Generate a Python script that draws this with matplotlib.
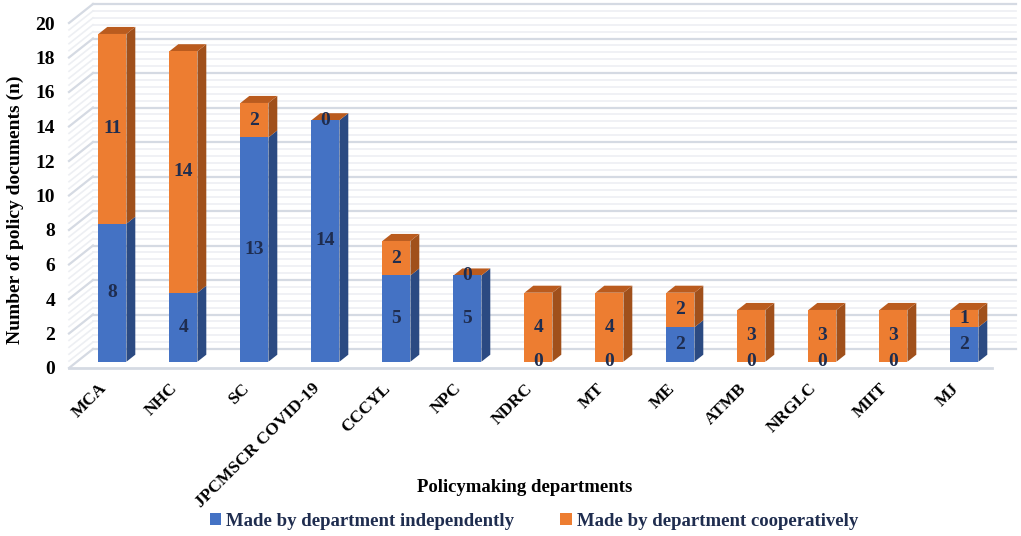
import matplotlib
matplotlib.use("Agg")
import matplotlib.pyplot as plt
from matplotlib.patches import Polygon, Patch
import numpy as np

departments = ["MCA", "NHC", "SC", "JPCMSCR COVID-19", "CCCYL", "NPC", "NDRC",
               "MT", "ME", "ATMB", "NRGLC", "MIIT", "MJ"]
independent = [8, 4, 13, 14, 5, 5, 0, 0, 2, 0, 0, 0, 2]
cooperative = [11, 14, 2, 0, 2, 0, 4, 4, 2, 3, 3, 3, 1]
series_names = ["Made by department independently", "Made by department cooperatively"]
y_ticks = list(range(0, 21, 2))

FONT = "Liberation Serif"
TXT = "#1F2D4F"
BLUE, BLUE_SIDE = "#4472C4", "#2B4A82"
ORANGE, ORANGE_SIDE, ORANGE_TOP = "#ED7D31", "#A0501B", "#BA5B1E"
GRID_MAJ, GRID_MIN = "#D5DAE3", "#EDEFF3"

W, H = 1021, 536
fig = plt.figure(figsize=(W / 100, H / 100), dpi=100)
left_px, right_px, y0_px, y20_px = 69, 992, 368, 23
ax = fig.add_axes([left_px / W, (H - y0_px) / H, (right_px - left_px) / W, (y0_px - y20_px) / H])
n = len(departments)
ax.set_xlim(-0.5, n - 0.5)
ax.set_ylim(0, 20)
kx = (right_px - left_px) / n          # px per x unit
ky = (y0_px - y20_px) / 20.0           # px per y unit
DX, DY = 24 / kx, 19 / ky              # full floor depth in data units
f0, f1 = 0.33, 0.70                    # bar depth fractions
for s in ax.spines.values():
    s.set_visible(False)
ax.patch.set_visible(False)

# back wall and left wall grid
for v in np.round(np.arange(0, 20.001, 0.4), 2):
    major = abs(v / 2 - round(v / 2)) < 1e-6
    c = GRID_MAJ if major else GRID_MIN
    lw = 1.6 if major else 1.2
    ax.plot([-0.5 + DX, n - 0.5 + DX], [v + DY, v + DY], color=c, lw=lw, clip_on=False, zorder=0.5)
    ax.plot([-0.5, -0.5 + DX], [v, v + DY], color=c, lw=lw, clip_on=False, zorder=0.5)
# floor front edge
ax.plot([-0.5, n - 0.5], [0, 0], color=GRID_MAJ, lw=2, clip_on=False, zorder=0.6)

x = np.arange(n)
w = 28 / kx
fx, fy = f0 * DX, f0 * DY
ddx, ddy = (f1 - f0) * DX, (f1 - f0) * DY
ind = np.array(independent, float)
coop = np.array(cooperative, float)

ax.bar(x + fx, ind, bottom=fy, width=w, color=BLUE, zorder=3, clip_on=False)
ax.bar(x + fx, coop, bottom=ind + fy, width=w, color=ORANGE, zorder=3, clip_on=False)

for i in range(n):
    xr = x[i] + fx + w / 2
    xl = x[i] + fx - w / 2
    for b, h, side in [(0, ind[i], BLUE_SIDE), (ind[i], coop[i], ORANGE_SIDE)]:
        if h > 0:
            yb, yt = b + fy, b + h + fy
            ax.add_patch(Polygon([(xr, yb), (xr, yt), (xr + ddx, yt + ddy), (xr + ddx, yb + ddy)],
                                 closed=True, color=side, zorder=2.9, clip_on=False, lw=0))
    top = ind[i] + coop[i] + fy
    ax.add_patch(Polygon([(xl, top), (xr, top), (xr + ddx, top + ddy), (xl + ddx, top + ddy)],
                         closed=True, color=ORANGE_TOP, zorder=2.9, clip_on=False, lw=0))
    # labels
    ax.text(x[i] + fx, ind[i] / 2 + fy, f"{int(ind[i])}", ha="center", va="center",
            fontsize=14, fontweight="bold", family=FONT, color=TXT, zorder=5)
    ax.text(x[i] + fx, ind[i] + coop[i] / 2 + fy, f"{int(coop[i])}", ha="center", va="center",
            fontsize=14, fontweight="bold", family=FONT, color=TXT, zorder=5)

ax.set_yticks(y_ticks)
ax.set_yticklabels([str(t) for t in y_ticks], fontsize=14, fontweight="bold", family=FONT)
ax.tick_params(axis="y", length=0, pad=10)
ax.set_xticks(x)
ax.set_xticklabels(departments, rotation=45, ha="right", va="center", rotation_mode="anchor",
                   fontsize=12.5, fontweight="bold", family=FONT)
ax.tick_params(axis="x", length=0, pad=13)

fig.text(0.015, 1 - 210 / H, "Number of policy documents (n)", rotation=90, ha="center", va="center",
         fontsize=14, fontweight="bold", family=FONT, color="black")
fig.text(525 / W, 1 - 488 / H, "Policymaking departments", ha="center", va="center",
         fontsize=13.5, fontweight="bold", family=FONT, color="black")

handles = [Patch(facecolor=BLUE, edgecolor="none"), Patch(facecolor=ORANGE, edgecolor="none")]
leg = fig.legend(handles, series_names, loc="center", bbox_to_anchor=(534 / W, 1 - 521 / H), ncol=2,
                 frameon=False, handlelength=0.6, handleheight=0.6, handletextpad=0.3, columnspacing=2.45,
                 prop={"family": FONT, "weight": "bold", "size": 13.5})
for t in leg.get_texts():
    t.set_color(TXT)

fig.savefig("out.png", dpi=100)
